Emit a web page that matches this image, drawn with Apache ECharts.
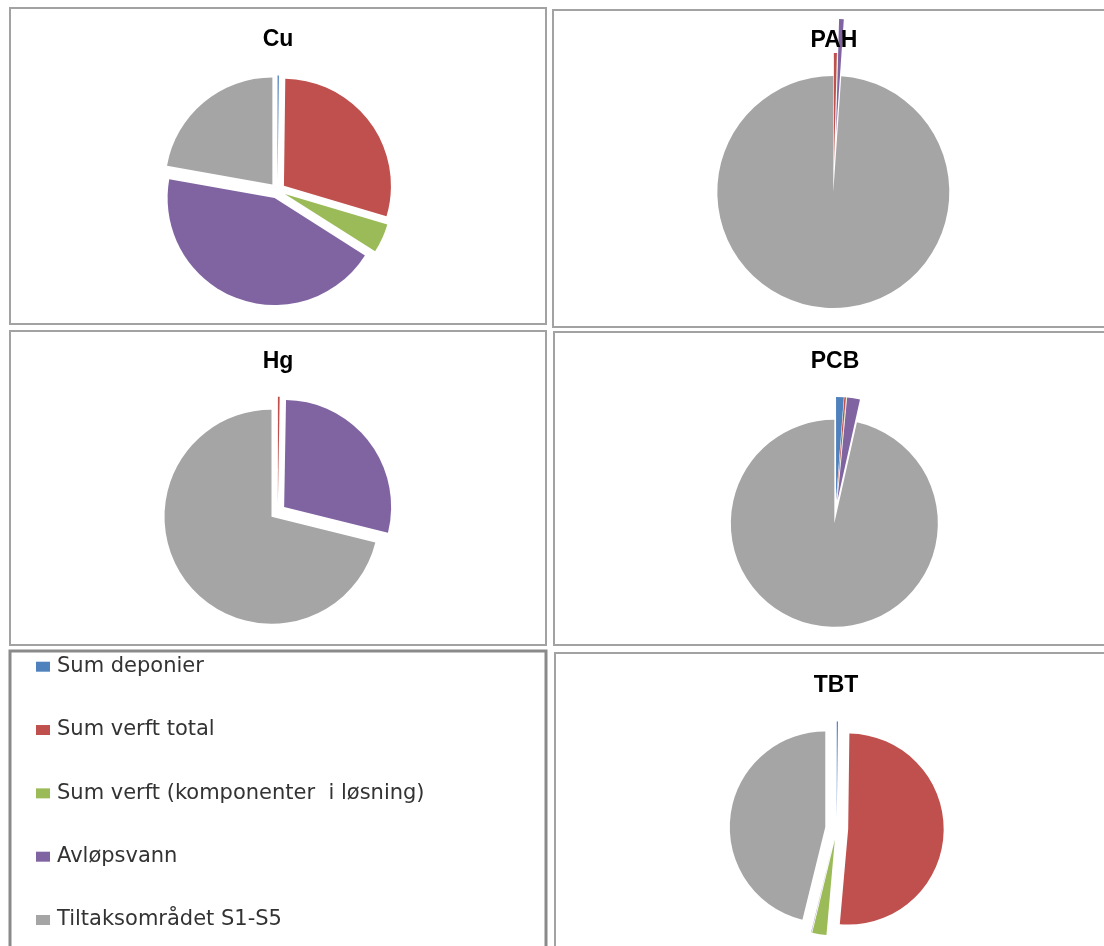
<!DOCTYPE html>
<html>
<head>
<meta charset="utf-8">
<title>Kilder til forurensning</title>
<script src="https://cdn.jsdelivr.net/npm/echarts@6/dist/echarts.min.js"></script>
<style>
  html, body { margin: 0; padding: 0; background: #ffffff; }
  #chart { width: 1104px; height: 946px; }
</style>
</head>
<body>
<div id="chart"></div>
<script>
// Source categories (legend order = slice order, clockwise from 12 o'clock)
const categories = [
  'Sum deponier',
  'Sum verft total',
  'Sum verft (komponenter  i løsning)',
  'Avløpsvann',
  'Tiltaksområdet S1-S5'
];
const sliceColors = ['#4F81BD', '#C0504D', '#9BBB59', '#8064A2', '#A5A5A5'];

// Share of each source (%) per pollutant
const titles = ['Cu', 'PAH', 'Hg', 'PCB', 'TBT'];
const cu  = [0.2, 29.4, 4.4, 43.8, 22.2];
const pah = [0.02, 0.4, 0.02, 0.65, 98.91];
const hg  = [0.02, 0.25, 0.01, 28.6, 71.12];
const pcb = [1.2, 0.25, 0.05, 2.0, 96.5];
const tbt = [0.2, 51.2, 2.4, 0.05, 46.15];

// Panel geometry: frame, title anchor, pie centre/radius and slice explosion
const panels = {
  Cu:  { frame: [10, 8, 536, 316],  title: [278, 40],  center: [277.5, 190.6], r: 107,   gap: 8 },
  PAH: { frame: [553, 10, 580, 317], title: [834, 41], center: [833.7, 180.5], r: 116,   gap: 11.5, bigGap: 45.5 },
  Hg:  { frame: [10, 331, 536, 314], title: [278, 362], center: [277.8, 511.8], r: 107,   gap: 8 },
  PCB: { frame: [554, 332, 580, 313], title: [835, 362], center: [835.6, 511.9], r: 103.5, gap: 11.5 },
  TBT: { frame: [555, 653, 580, 320], title: [836, 686], center: [836.7, 828.5], r: 95.5,  gap: 11.5 }
};
const legendFrame = [10, 651, 536, 320];

function pieSeries(name, values, p, offset, showIdx) {
  return {
    type: 'pie',
    name: name,
    center: p.center,
    radius: p.r,
    startAngle: 90,
    clockwise: true,
    minAngle: 0,
    avoidLabelOverlap: false,
    selectedMode: 'multiple',
    selectedOffset: offset,
    silent: true,
    animation: false,
    label: { show: false },
    labelLine: { show: false },
    emphasis: { disabled: true },
    itemStyle: { borderWidth: 0 },
    data: categories.map(function (c, i) {
      const visible = !showIdx || showIdx.indexOf(i) >= 0;
      return {
        name: c,
        value: values[i],
        selected: true,
        itemStyle: { color: visible ? sliceColors[i] : 'rgba(0,0,0,0)' }
      };
    })
  };
}

const series = [
  pieSeries('Cu', cu, panels.Cu, panels.Cu.gap),
  // PAH: the wastewater slice is pulled further out than the rest
  pieSeries('PAH', pah, panels.PAH, panels.PAH.gap, [0, 1, 2, 4]),
  pieSeries('PAH ', pah, panels.PAH, panels.PAH.bigGap, [3]),
  pieSeries('Hg', hg, panels.Hg, panels.Hg.gap),
  pieSeries('PCB', pcb, panels.PCB, panels.PCB.gap),
  pieSeries('TBT', tbt, panels.TBT, panels.TBT.gap)
];

const graphics = [];
Object.keys(panels).forEach(function (k) {
  const f = panels[k].frame;
  graphics.push({
    type: 'rect', z: 0, silent: true,
    shape: { x: f[0], y: f[1], width: f[2], height: f[3] },
    style: { fill: 'none', stroke: '#A2A2A2', lineWidth: 2 }
  });
});
graphics.push({
  type: 'rect', z: 0, silent: true,
  shape: { x: legendFrame[0], y: legendFrame[1], width: legendFrame[2], height: legendFrame[3] },
  style: { fill: 'none', stroke: '#8A8A8A', lineWidth: 3 }
});
titles.forEach(function (t) {
  const a = panels[t].title;
  graphics.push({
    type: 'text', z: 10, silent: true,
    x: a[0], y: a[1],
    style: {
      text: t,
      fill: '#000000',
      font: 'bold 23px "Liberation Sans", Arial, sans-serif',
      textAlign: 'center',
      textVerticalAlign: 'middle'
    }
  });
});

const chart = echarts.init(document.getElementById('chart'), null, { renderer: 'canvas' });
chart.setOption({
  animation: false,
  backgroundColor: '#ffffff',
  legend: {
    orient: 'vertical',
    left: 36,
    top: 656.2,
    padding: 0,
    itemWidth: 14,
    itemHeight: 10,
    itemGap: 42.33,
    icon: 'rect',
    selectedMode: false,
    data: categories,
    textStyle: {
      fontFamily: '"DejaVu Sans", Verdana, sans-serif',
      fontSize: 21,
      lineHeight: 21,
      color: '#333333',
      padding: [0, 0, 0, 2]
    }
  },
  graphic: graphics,
  series: series
});
</script>
</body>
</html>
